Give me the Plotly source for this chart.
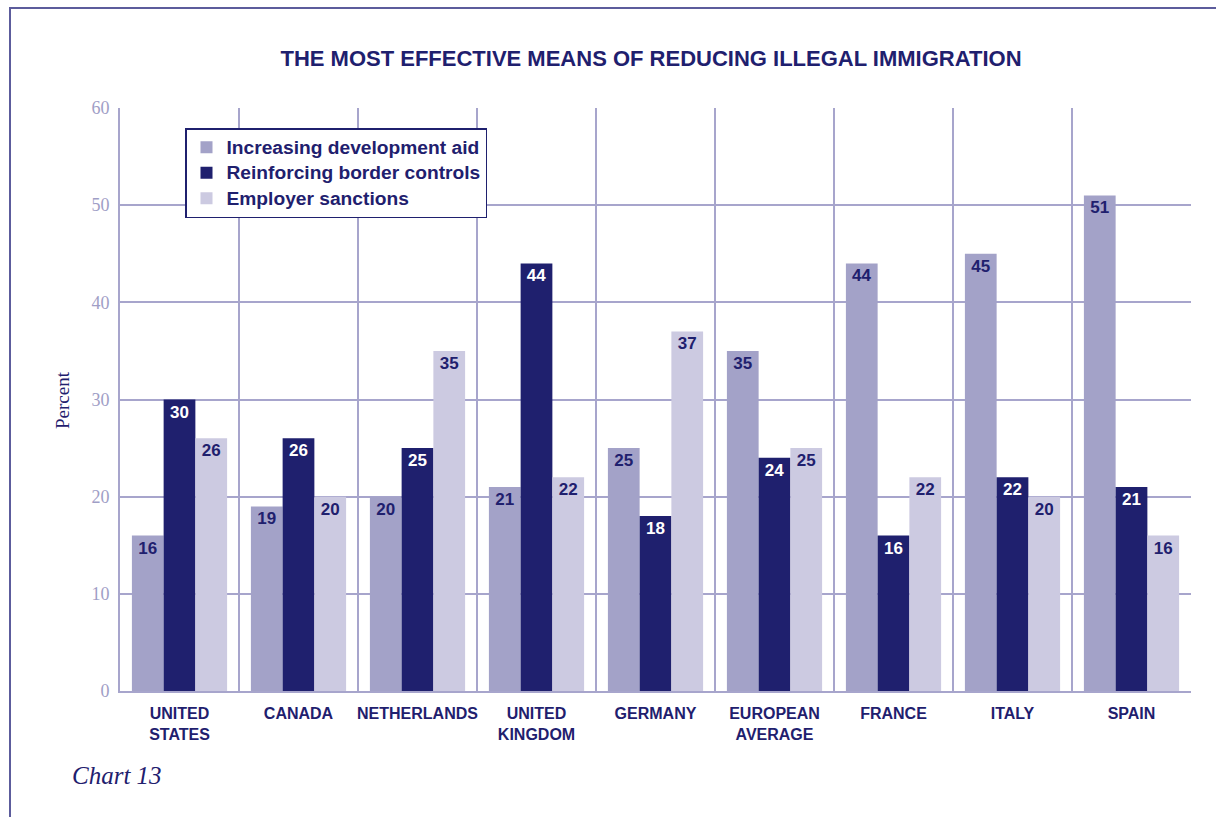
import plotly.graph_objects as go

categories = ["UNITED<br>STATES", "CANADA", "NETHERLANDS", "UNITED<br>KINGDOM", "GERMANY",
              "EUROPEAN<br>AVERAGE", "FRANCE", "ITALY", "SPAIN"]
dev_aid = [16, 19, 20, 21, 25, 35, 44, 45, 51]
border_controls = [30, 26, 25, 44, 18, 24, 16, 22, 21]
employer_sanctions = [26, 20, 35, 22, 37, 25, 22, 20, 16]
series_names = ["Increasing development aid", "Reinforcing border controls", "Employer sanctions"]

NAVY = "#1f206e"
C_AID = "#a3a2c8"
C_BORDER = "#1f206e"
C_EMP = "#cccae1"
GRID = "#a7a5cc"
TICK = "#9f9ec6"

W, H = 1216, 817
L, R, T, B = 120, 25, 108, 126
pw, ph = W - L - R, H - T - B

def px_x(x):
    return (x - L) / pw

def px_y(y):
    return (H - B - y) / ph

series = [
    (series_names[0], dev_aid, C_AID, NAVY),
    (series_names[1], border_controls, C_BORDER, "white"),
    (series_names[2], employer_sanctions, C_EMP, NAVY),
]

fig = go.Figure()
for name, vals, col, tcol in series:
    fig.add_trace(go.Bar(
        name='<span style="font-size:19.2px">' + name + '</span>',
        x=categories, y=vals, marker=dict(color=col, line=dict(width=0)),
        text=[str(v) for v in vals], textposition="inside", insidetextanchor="end",
        textangle=0, constraintext="none",
        textfont=dict(family="Liberation Sans", size=17, color=tcol, weight="bold"),
        hoverinfo="skip",
    ))

fig.update_layout(
    width=W, height=H,
    margin=dict(l=L, r=R, t=T, b=B, autoexpand=False),
    paper_bgcolor="white", plot_bgcolor="white",
    barmode="group", bargap=0.2, bargroupgap=0,
    title=dict(text="<b>THE MOST EFFECTIVE MEANS OF REDUCING ILLEGAL IMMIGRATION</b>",
               font=dict(family="Liberation Sans", size=22, color=NAVY),
               x=px_x(651), xref="paper", xanchor="center",
               y=1 - 58 / H, yref="container", yanchor="middle"),
    legend=dict(x=px_x(185), y=px_y(128), xanchor="left", yanchor="top",
                bgcolor="white", bordercolor=NAVY, borderwidth=1.5,
                font=dict(family="Liberation Sans", size=17.3, color=NAVY, weight="bold"),
                tracegroupgap=0, itemsizing="constant"),
    showlegend=True,
)

fig.update_xaxes(
    type="category", tickson="boundaries", showgrid=True, gridcolor=GRID, gridwidth=2,
    showline=True, linecolor=GRID, linewidth=2, ticks="", tickangle=0, automargin=False,
    tickfont=dict(family="Liberation Sans", size=16, color=NAVY, weight="bold"),
    ticklabelstandoff=7,
)
fig.update_yaxes(
    range=[0, 60], dtick=10, showgrid=True, gridcolor=GRID, gridwidth=2,
    showline=True, linecolor=GRID, linewidth=2, ticks="", zeroline=False, automargin=False,
    tickfont=dict(family="Liberation Serif", size=18, color=TICK),
    ticklabelstandoff=5,
)

# outer frame
fig.add_shape(type="rect", xref="paper", yref="paper",
              x0=px_x(10), x1=px_x(1240), y0=px_y(840), y1=px_y(8),
              line=dict(color="#5c5c9c", width=2), fillcolor="rgba(0,0,0,0)", layer="below")

fig.add_annotation(text="Percent", textangle=-90, xref="paper", yref="paper",
                   x=px_x(62), y=px_y(400), xanchor="center", yanchor="middle",
                   showarrow=False, font=dict(family="Liberation Serif", size=19, color=NAVY))
fig.add_annotation(text="<i>Chart 13</i>", xref="paper", yref="paper",
                   x=px_x(70), y=px_y(775), xanchor="left", yanchor="middle",
                   showarrow=False, font=dict(family="Liberation Serif", size=25, color=NAVY))

fig.write_html("out.html", config={"displayModeBar": False},
               post_script="document.body.style.margin='0';document.body.style.overflow='hidden';")
